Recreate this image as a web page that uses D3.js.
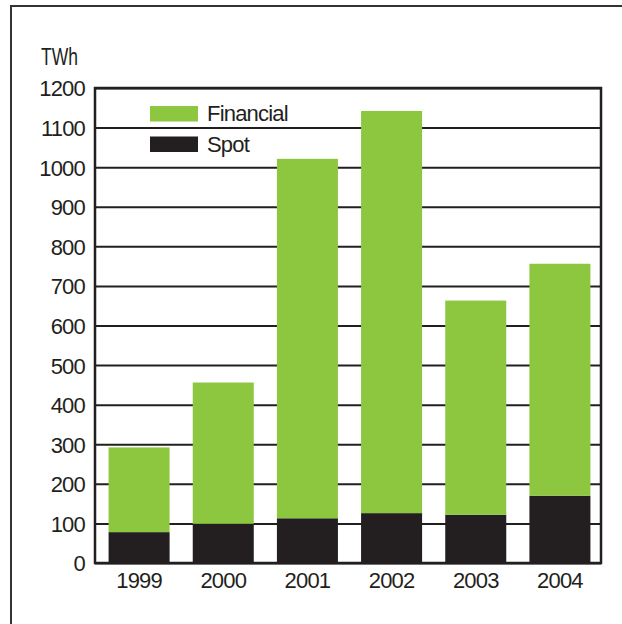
<!DOCTYPE html>
<html>
<head>
<meta charset="utf-8">
<script src="https://cdn.jsdelivr.net/npm/d3@7"></script>
<style>
  html, body { margin: 0; padding: 0; background: #fff; }
  svg text { font-family: "Liberation Sans", Arial, Helvetica, sans-serif; fill: #231f20; }
</style>
</head>
<body>
<svg id="chart" width="622" height="624"></svg>
<script>
// Traded volume per year, TWh
const years = ["1999", "2000", "2001", "2002", "2003", "2004"];
const spot = [78, 99, 113, 126, 122, 170];
const total = [292, 456, 1021, 1142, 663, 756];
const financial = total.map((t, i) => t - spot[i]);
const yTicks = [0, 100, 200, 300, 400, 500, 600, 700, 800, 900, 1000, 1100, 1200];
const seriesNames = ["Financial", "Spot"];

const colors = { Financial: "#8dc63f", Spot: "#231f20" };
const ink = "#231f20";
const labelSize = 22;
const labelSpacing = "-0.8px";

const svg = d3.select("#chart");

// Outer frame (open on the right and bottom)
svg.append("path")
  .attr("d", "M11,624 V6 H622")
  .attr("fill", "none")
  .attr("stroke", "#333")
  .attr("stroke-width", 2);

const plot = { left: 95, right: 601, top: 88, bottom: 563 };

const x = d3.scaleBand()
  .domain(years)
  .range([97, 602])
  .paddingInner(0.275)
  .paddingOuter(0.1375);

const y = d3.scaleLinear()
  .domain([0, 1200])
  .range([plot.bottom, plot.top]);

// Gridlines and tick labels
const yAxis = d3.axisLeft(y)
  .tickValues(yTicks)
  .tickSize(-(plot.right - plot.left))
  .tickPadding(10)
  .tickFormat(d3.format("d"));

const gy = svg.append("g")
  .attr("transform", `translate(${plot.left},0)`)
  .call(yAxis);
gy.select(".domain").remove();
gy.selectAll(".tick line").attr("stroke", ink).attr("stroke-width", 2);
gy.selectAll(".tick text")
  .attr("font-size", labelSize)
  .style("letter-spacing", labelSpacing)
  .attr("fill", ink)
  .attr("x", -10)
  .attr("dy", "0.36em");

// Stacked bars
const rows = years.map((yr, i) => ({ year: yr, Spot: spot[i], Financial: financial[i] }));
const stacked = d3.stack().keys(["Spot", "Financial"])(rows);

svg.append("g")
  .selectAll("g")
  .data(stacked)
  .join("g")
  .attr("fill", d => colors[d.key])
  .selectAll("rect")
  .data(d => d)
  .join("rect")
  .attr("x", d => x(d.data.year))
  .attr("width", x.bandwidth())
  .attr("y", d => y(d[1]))
  .attr("height", d => y(d[0]) - y(d[1]));

// Plot frame
svg.append("rect")
  .attr("x", plot.left)
  .attr("y", plot.top)
  .attr("width", plot.right - plot.left)
  .attr("height", plot.bottom - plot.top)
  .attr("fill", "none")
  .attr("stroke", ink)
  .attr("stroke-width", 2.5);

// Category labels
const xAxis = d3.axisBottom(x).tickSize(0).tickPadding(9);
const gx = svg.append("g")
  .attr("transform", `translate(0,${plot.bottom})`)
  .call(xAxis);
gx.select(".domain").remove();
gx.selectAll(".tick text")
  .attr("font-size", labelSize)
  .style("letter-spacing", labelSpacing)
  .attr("fill", ink);

// Unit label
svg.append("text")
  .attr("x", 41)
  .attr("y", 65)
  .attr("font-size", 23)
  .attr("textLength", 37)
  .attr("lengthAdjust", "spacingAndGlyphs")
  .text("TWh");

// Legend
const legend = svg.append("g");
seriesNames.forEach((name, i) => {
  const ly = 106 + i * 30.5;
  legend.append("rect")
    .attr("x", 150)
    .attr("y", ly)
    .attr("width", 48)
    .attr("height", 15.5)
    .attr("fill", colors[name]);
  legend.append("text")
    .attr("x", 207)
    .attr("y", ly + 15)
    .attr("font-size", labelSize)
    .style("letter-spacing", labelSpacing)
    .text(name);
});
</script>
</body>
</html>
